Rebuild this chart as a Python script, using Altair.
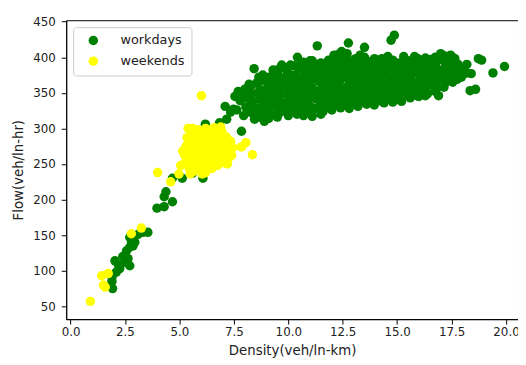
import altair as alt
import pandas as pd

# ---- workdays: (density, flow) ----
workday_density = [
    1.93, 1.90, 2.04, 2.26, 2.49, 2.64, 2.72, 2.57, 2.72, 2.87, 2.95, 2.72, 2.87, 3.10, 3.32, 3.55,
    1.90, 2.10, 2.20, 2.40, 2.80,
    3.97, 4.30, 4.68, 4.30, 4.38, 4.68, 5.13, 5.60, 6.08,
    6.19, 6.84, 7.17, 7.10, 7.48, 7.35, 7.79, 7.63, 7.85, 7.55, 7.70,
    7.95, 8.05, 8.10, 8.00, 8.20, 8.15, 7.90,
    8.45, 8.50, 8.40, 8.60, 8.55, 8.43, 8.65, 8.50,
    8.80, 8.90, 8.85, 9.00, 8.95, 8.83, 9.05, 8.90,
    9.25, 9.30, 9.20, 9.40, 9.35, 9.30, 9.45, 9.20,
    9.60, 9.70, 9.65, 9.80, 9.75, 9.60, 9.85, 9.70,
    10.00, 10.10, 10.05, 10.20, 10.15, 10.00, 10.10, 10.25,
    10.40, 10.50, 10.45, 10.60, 10.55, 10.42, 10.50, 10.65, 10.35,
    10.80, 10.90, 10.85, 11.00, 10.95, 10.80, 11.05, 11.00,
    11.10, 11.25, 11.30, 11.20, 11.40, 11.35, 11.33, 11.25, 11.45,
    11.60, 11.70, 11.65, 11.80, 11.75, 11.60, 11.85, 11.70,
    12.00, 12.10, 12.05, 12.20, 12.15, 12.00, 12.10, 12.25, 12.20,
    12.40, 12.50, 12.45, 12.60, 12.55, 12.45, 12.65, 12.35, 12.60,
    12.80, 12.90, 12.85, 13.00, 12.95, 12.80, 12.76, 13.05, 12.90,
    13.20, 13.30, 13.25, 13.40, 13.35, 13.20, 13.30, 13.50, 13.45,
    13.60, 13.70, 13.65, 13.80, 13.75, 13.60, 13.85, 13.70,
    13.95, 14.10, 14.05, 14.20, 14.15, 14.00, 13.96, 14.25,
    14.40, 14.50, 14.45, 14.60, 14.55, 14.57, 14.72, 14.87, 14.65, 14.40,
    14.80, 14.90, 14.85, 15.00, 14.95, 14.80, 15.05, 15.00,
    15.20, 15.30, 15.25, 15.40, 15.35, 15.30, 15.45, 15.20,
    15.60, 15.70, 15.65, 15.80, 15.75, 15.80, 15.90, 15.60,
    16.00, 16.10, 16.05, 16.20, 16.15, 16.00, 16.25, 16.10,
    16.40, 16.50, 16.45, 16.60, 16.55, 16.65, 16.40,
    16.90, 16.85, 17.00, 16.95, 17.00, 16.80, 17.10,
    17.20, 17.30, 17.25, 17.45, 17.40, 17.35, 17.50,
    17.70, 17.80, 17.65, 17.90, 18.05, 17.75,
    18.40, 18.35, 18.60, 18.73, 18.88, 19.40, 19.93,
    # in-between points of the dense band
    8.30, 8.30, 8.30, 8.30,
    8.70, 8.70, 8.70, 8.70, 8.70,
    9.10, 9.10, 9.10, 9.10, 9.10, 9.10,
    9.50, 9.50, 9.50, 9.50, 9.50, 9.50,
    9.90, 9.90, 9.90, 9.90, 9.90, 9.90,
    10.30, 10.30, 10.30, 10.30, 10.30, 10.30,
    10.70, 10.70, 10.70, 10.70, 10.70, 10.70, 10.70,
    11.10, 11.10, 11.10, 11.10, 11.10, 11.10,
    11.50, 11.50, 11.50, 11.50, 11.50, 11.50, 11.50,
    11.90, 11.90, 11.90, 11.90, 11.90, 11.90,
    12.30, 12.30, 12.30, 12.30, 12.30, 12.30,
    12.70, 12.70, 12.70, 12.70, 12.70, 12.70, 12.70,
    13.10, 13.10, 13.10, 13.10, 13.10, 13.10,
    13.50, 13.50, 13.50, 13.50, 13.50, 13.50,
    13.90, 13.90, 13.90, 13.90, 13.90,
    14.30, 14.30, 14.30, 14.30, 14.30, 14.30,
    14.70, 14.70, 14.70, 14.70, 14.70,
    15.10, 15.10, 15.10, 15.10, 15.10,
    15.50, 15.50, 15.50, 15.50, 15.50,
    15.95, 15.95, 15.95, 15.95, 15.95,
    16.30, 16.30, 16.30, 16.30, 16.30, 16.30,
    16.75, 16.75, 16.75, 16.75, 16.75,
    17.15, 17.15, 17.15, 17.15, 17.15,
    17.55, 17.55, 17.55, 17.55,
    17.95, 17.95, 18.20, 18.20,
]
workday_flow = [
    75, 91, 114, 103, 112, 117, 107, 128, 133, 135, 140, 147, 146, 151, 154, 154,
    85, 98, 108, 120, 140,
    188, 190, 197, 204, 211, 230, 230, 237, 230,
    306, 308, 313, 331, 327, 323, 339, 326, 296, 345, 352,
    318, 330, 343, 355, 362, 325, 348,
    313, 327, 338, 350, 364, 384, 372, 320,
    318, 331, 344, 356, 368, 375, 325, 310,
    319, 333, 345, 352, 366, 382, 374, 358,
    322, 336, 348, 360, 371, 384, 328, 389,
    318, 330, 342, 354, 366, 378, 389, 347,
    320, 333, 345, 357, 370, 400, 384, 392, 362,
    323, 337, 350, 362, 374, 387, 330, 395,
    317, 328, 341, 353, 366, 378, 416, 390, 347,
    324, 336, 349, 361, 373, 385, 396, 357,
    326, 338, 351, 363, 376, 388, 403, 345, 395,
    329, 341, 354, 377, 389, 408, 398, 366, 350,
    328, 340, 353, 364, 376, 388, 420, 397, 370,
    331, 343, 356, 368, 380, 392, 403, 414, 350,
    334, 346, 359, 371, 383, 395, 340, 364,
    333, 345, 357, 369, 381, 393, 398, 352,
    336, 348, 360, 372, 384, 401, 424, 431, 341, 390,
    337, 350, 362, 374, 386, 396, 344, 368,
    338, 351, 363, 375, 387, 401, 356, 381,
    343, 355, 367, 379, 391, 401, 346, 372,
    345, 357, 369, 381, 393, 362, 350, 387,
    349, 361, 373, 385, 397, 366, 380,
    346, 358, 370, 382, 405, 394, 376,
    364, 378, 390, 403, 385, 396, 372,
    380, 390, 398, 385, 384, 369,
    377, 353, 355, 398, 396, 378, 387,
    # in-between points of the dense band
    322, 335, 349, 360,
    316, 329, 341, 354, 366,
    314, 326, 339, 350, 362, 372,
    316, 329, 341, 354, 366, 378,
    324, 336, 348, 360, 372, 383,
    325, 338, 351, 363, 375, 388,
    318, 328, 342, 355, 367, 380, 393,
    325, 344, 357, 370, 383, 395,
    320, 332, 343, 355, 368, 380, 392,
    330, 343, 355, 367, 380, 392,
    334, 357, 370, 382, 394, 404,
    333, 346, 359, 371, 383, 395, 405,
    335, 347, 360, 372, 385, 398,
    338, 351, 363, 375, 388, 400,
    340, 352, 365, 377, 389,
    338, 350, 363, 376, 388, 398,
    343, 355, 366, 379, 391,
    341, 355, 367, 380, 392,
    346, 359, 371, 383, 395,
    352, 365, 377, 390, 398,
    346, 356, 368, 379, 390, 399,
    352, 364, 376, 388, 400,
    358, 370, 383, 395, 402,
    365, 378, 390, 400,
    372, 382, 378, 390,
]

# ---- weekends: (density, flow) ----
weekend_density = [
    0.91, 1.51, 1.59, 1.43, 1.73, 2.79, 3.25, 4.00, 4.60, 4.98, 5.06,
    5.20, 5.25, 5.30, 5.35, 5.45, 5.50, 5.55, 5.60, 5.60, 5.70, 5.75, 5.80, 5.85, 5.90, 5.85,
    5.95, 6.00, 6.05, 6.10, 6.15, 6.20, 6.25, 6.30, 6.35, 6.40, 6.45, 6.50, 6.55, 6.60, 6.65,
    6.70, 6.75, 6.80, 6.85, 6.90, 6.95, 7.00, 7.05, 7.10, 7.15, 7.25, 7.30, 7.35, 7.40, 7.45,
    5.40, 6.90, 6.60, 5.50, 6.05, 5.15, 7.20,
    5.40, 5.45, 5.50, 5.65, 5.70, 5.75, 5.80, 6.00, 6.10, 6.20, 6.25, 6.35,
    6.45, 6.50, 6.55, 6.70, 6.75, 6.80, 6.85, 7.00, 7.10, 7.20, 5.60, 6.20,
    6.01, 8.35, 8.05, 7.85,
]
weekend_flow = [
    57, 80, 77, 93, 96, 152, 160, 238, 225, 236, 248,
    250, 262, 275, 287, 244, 256, 268, 280, 293, 240, 251, 263, 275, 287, 298,
    245, 257, 269, 281, 293, 238, 250, 262, 274, 286, 298, 244, 256, 268, 280,
    292, 248, 260, 272, 284, 296, 252, 264, 276, 288, 258, 270, 282, 262, 273,
    300, 302, 301, 236, 236, 268, 250,
    258, 270, 282, 246, 258, 270, 282, 250, 262, 274, 286, 244,
    256, 270, 290, 252, 264, 278, 292, 270, 258, 280, 300, 300,
    346, 263, 280, 274,
]

series_names = ["workdays", "weekends"]
series_colors = ["green", "yellow"]
x_ticks = [0.0, 2.5, 5.0, 7.5, 10.0, 12.5, 15.0, 17.5, 20.0]
y_ticks = [50, 100, 150, 200, 250, 300, 350, 400, 450]

df = pd.concat([
    pd.DataFrame({"density": workday_density, "flow": workday_flow, "day": series_names[0]}),
    pd.DataFrame({"density": weekend_density, "flow": weekend_flow, "day": series_names[1]}),
], ignore_index=True)

FONT = "DejaVu Sans"

chart = alt.Chart(df).mark_circle(size=92, opacity=1).encode(
    x=alt.X("density:Q", title="Density(veh/ln-km)",
            scale=alt.Scale(domain=[-0.2, 20.55], nice=False, zero=False),
            axis=alt.Axis(values=x_ticks, format=".1f")),
    y=alt.Y("flow:Q", title="Flow(veh/ln-hr)",
            scale=alt.Scale(domain=[32, 452], nice=False, zero=False),
            axis=alt.Axis(values=y_ticks, format="d")),
    color=alt.Color("day:N", scale=alt.Scale(domain=series_names, range=series_colors),
                    sort=series_names,
                    legend=alt.Legend(title=None, orient="none", legendX=7, legendY=7)),
    order=alt.Order("idx:Q"),
).transform_window(
    idx="row_number()"
).properties(
    width=458, height=303,
    autosize=alt.AutoSizeParams(type="none"),
    padding={"left": 59, "top": 10, "right": 0, "bottom": 40},
).configure_view(
    stroke="black", strokeWidth=1
).configure_axis(
    grid=False, domainColor="black", domainWidth=1, tickColor="black", tickWidth=1,
    tickSize=5, labelFont=FONT, labelFontSize=12, labelColor="#222222",
    titleFont=FONT, titleFontSize=13.5, titleFontWeight="normal", titleColor="#222222",
).configure_axisX(
    labelPadding=3, titlePadding=6
).configure_axisY(
    labelPadding=6, titlePadding=7
).configure_legend(
    strokeColor="#cccccc", fillColor="white", cornerRadius=3, padding=7,
    symbolOffset=7, labelOffset=21, rowPadding=7, labelFont=FONT, labelFontSize=13,
    labelColor="#222222", symbolSize=92, symbolType="circle", symbolStrokeWidth=0,
)

chart.save("out.html", embed_options={"renderer": "svg", "actions": False})
